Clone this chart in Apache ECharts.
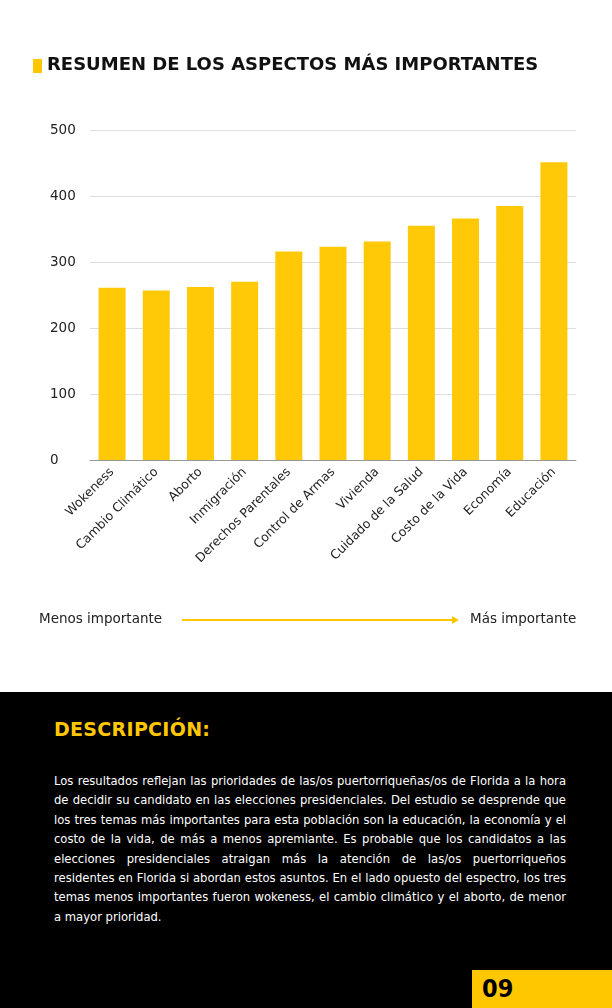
<!DOCTYPE html>
<html>
<head>
<meta charset="utf-8">
<script src="https://cdn.jsdelivr.net/npm/echarts@6/dist/echarts.min.js"></script>
<style>
  html, body { margin: 0; padding: 0; background: #fff; }
  #chart { width: 612px; height: 692px; }
  #desc { position: relative; width: 612px; height: 316px; background: #000; color: #fff; font-family: 'DejaVu Sans', sans-serif; }
  #desc h2 { position: absolute; left: 54px; top: 26px; margin: 0; color: #ffc700; font-size: 19px; font-weight: bold; letter-spacing: 0.3px; }
  #desc p { position: absolute; left: 54px; top: 80px; width: 512px; margin: 0; font-size: 11.6px; line-height: 19.4px; text-align: justify; }
  #page { position: absolute; right: 0; bottom: 0; width: 140px; height: 38px; background: #ffc700; color: #000; font-weight: bold; font-size: 25px; line-height: 38px; text-indent: 10px; font-family: 'DejaVu Sans Condensed', sans-serif; }
</style>
</head>
<body>
<div id="chart"></div>
<div id="desc">
  <h2>DESCRIPCIÓN:</h2>
  <p>Los resultados reflejan las prioridades de las/os puertorriqueñas/os de Florida a la hora de decidir su candidato en las elecciones presidenciales. Del estudio se desprende que los tres temas más importantes para esta población son la educación, la economía y el costo de la vida, de más a menos apremiante. Es probable que los candidatos a las elecciones presidenciales atraigan más la atención de las/os puertorriqueños residentes en Florida si abordan estos asuntos. En el lado opuesto del espectro, los tres temas menos importantes fueron wokeness, el cambio climático y el aborto, de menor a mayor prioridad.</p>
  <div id="page">09</div>
</div>
<script>
var categories = ['Wokeness', 'Cambio Climático', 'Aborto', 'Inmigración', 'Derechos Parentales',
  'Control de Armas', 'Vivienda', 'Cuidado de la Salud', 'Costo de la Vida', 'Economía', 'Educación'];
var values = [261, 257, 262, 270, 316, 323, 331, 355, 366, 385, 451];

var font = 'DejaVu Sans';
var myChart = echarts.init(document.getElementById('chart'));

var option = {
  backgroundColor: '#fff',
  textStyle: { fontFamily: font },
  grid: { left: 90, right: 36, top: 130, bottom: 232 },
  graphic: [
    { type: 'rect', left: 33, top: 59, shape: { width: 9, height: 14 }, style: { fill: '#ffc700' } },
    { type: 'text', left: 47, top: 56, style: { text: 'RESUMEN DE LOS ASPECTOS MÁS IMPORTANTES', font: 'bold 18px ' + font, fill: '#111' } },
    { type: 'text', left: 39, top: 612, style: { text: 'Menos importante', font: '13.5px ' + font, fill: '#222' } },
    { type: 'line', shape: { x1: 182, y1: 620, x2: 452, y2: 620 }, style: { stroke: '#ffc700', lineWidth: 2 } },
    { type: 'polygon', shape: { points: [[452, 616], [459, 620], [452, 624]] }, style: { fill: '#ffc700' } },
    { type: 'text', left: 470, top: 612, style: { text: 'Más importante', font: '13.5px ' + font, fill: '#222' } }
  ],
  xAxis: {
    type: 'category',
    data: categories,
    axisLine: { lineStyle: { color: '#999' } },
    axisTick: { show: false },
    axisLabel: { rotate: 45, interval: 0, color: '#222', fontSize: 12.5, margin: 10 }
  },
  yAxis: {
    type: 'value',
    min: 0, max: 500, interval: 100,
    axisLabel: { color: '#222', fontSize: 13.5, margin: 40, align: 'left' },
    splitLine: { lineStyle: { color: '#ddd' } }
  },
  series: [{
    type: 'bar',
    data: values,
    barWidth: 27,
    itemStyle: { color: '#ffc907' }
  }]
};
myChart.setOption(option);
</script>
</body>
</html>
